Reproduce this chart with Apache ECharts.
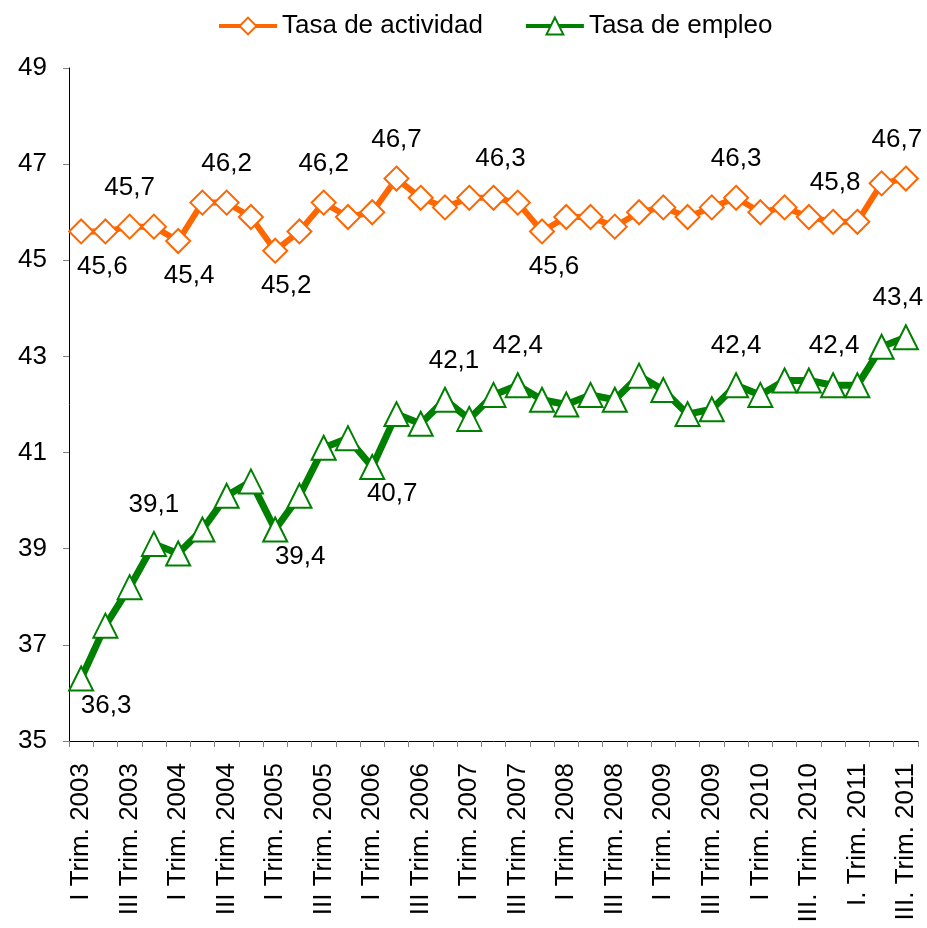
<!DOCTYPE html>
<html>
<head>
<meta charset="utf-8">
<script src="https://cdn.jsdelivr.net/npm/echarts@6/dist/echarts.min.js"></script>
<style>
html,body{margin:0;padding:0;background:#fff;}
#chart{width:927px;height:928px;}
</style>
</head>
<body>
<div id="chart"></div>
<script>
const categories = [
  'I Trim. 2003','II Trim. 2003','III Trim. 2003','IV Trim. 2003',
  'I Trim. 2004','II Trim. 2004','III Trim. 2004','IV Trim. 2004',
  'I Trim. 2005','II Trim. 2005','III Trim. 2005','IV Trim. 2005',
  'I Trim. 2006','II Trim. 2006','III Trim. 2006','IV Trim. 2006',
  'I Trim. 2007','II Trim. 2007','III Trim. 2007','IV Trim. 2007',
  'I Trim. 2008','II Trim. 2008','III Trim. 2008','IV Trim. 2008',
  'I Trim. 2009','II Trim. 2009','III Trim. 2009','IV Trim. 2009',
  'I Trim. 2010','II Trim. 2010','III. Trim. 2010','IV. Trim. 2010',
  'I. Trim. 2011','II. Trim. 2011','III. Trim. 2011'
];
const tasaActividad = [45.6,45.6,45.7,45.7,45.4,46.2,46.2,45.9,45.2,45.6,46.2,45.9,46.0,46.7,46.3,46.1,46.3,46.3,46.2,45.6,45.9,45.9,45.7,46.0,46.1,45.9,46.1,46.3,46.0,46.1,45.9,45.8,45.8,46.6,46.7];
const tasaEmpleo = [36.3,37.4,38.2,39.1,38.9,39.4,40.1,40.4,39.4,40.1,41.1,41.3,40.7,41.8,41.6,42.1,41.7,42.2,42.4,42.1,42.0,42.2,42.1,42.6,42.3,41.8,41.9,42.4,42.2,42.5,42.5,42.4,42.4,43.2,43.4];
const yTicks = {min: 35, max: 49, interval: 2};

// which points carry a data label: [index, side, horizontal shift]
const labelsActividad = [[1,'bottom',-3],[2,'top',0],[4,'bottom',11],[6,'top',0],[8,'bottom',11],[10,'top',0],[13,'top',0],[17,'top',7],[19,'bottom',12],[27,'top',0],[31,'top',2],[34,'top',-9]];
const labelsEmpleo = [[0,'bottom',25],[3,'top',0],[8,'bottom',25],[12,'bottom',20],[15,'top',9],[18,'top',0],[27,'top',0],[31,'top',1],[34,'top',-8]];

const FONT = "'Liberation Sans', Arial, sans-serif";
const FS = 26;

function buildData(values, labels, topDist, botDist) {
  const map = {};
  labels.forEach(l => { map[l[0]] = l; });
  return values.map((v, i) => {
    const l = map[i];
    if (!l) return v;
    return {
      value: v,
      label: {
        show: true,
        position: l[1],
        distance: l[1] === 'top' ? topDist : botDist,
        offset: [l[2], 0]
      }
    };
  });
}
const fmt = p => String(p.value).replace('.', ',');

const chart = echarts.init(document.getElementById('chart'));
chart.setOption({
  animation: false,
  backgroundColor: '#ffffff',
  textStyle: {fontFamily: FONT},
  legend: {
    top: 8,
    left: 212,
    itemWidth: 58,
    itemHeight: 21,
    itemGap: 41,
    textStyle: {fontSize: FS, color: '#000', fontFamily: FONT},
    lineStyle: {width: 4}
  },
  grid: {left: 69, right: 9, top: 68, bottom: 187, containLabel: false},
  xAxis: {
    type: 'category',
    data: categories,
    boundaryGap: true,
    axisLine: {lineStyle: {color: '#000', width: 1}},
    axisTick: {show: true, interval: 0, length: 6, lineStyle: {color: '#808080'}},
    axisLabel: {
      interval: 1, rotate: 90, margin: 22,
      fontSize: FS, color: '#000', fontFamily: FONT
    },
    splitLine: {show: false}
  },
  yAxis: {
    type: 'value',
    min: yTicks.min, max: yTicks.max, interval: yTicks.interval,
    axisLine: {show: true, lineStyle: {color: '#000', width: 1}},
    axisTick: {show: true, length: 6, lineStyle: {color: '#808080'}},
    axisLabel: {margin: 22, fontSize: FS, color: '#000', fontFamily: FONT},
    splitLine: {show: false}
  },
  series: [
    {
      name: 'Tasa de actividad',
      type: 'line',
      data: buildData(tasaActividad, labelsActividad, 13, 9),
      symbol: 'diamond',
      symbolSize: 24,
      showAllSymbol: true,
      lineStyle: {color: '#FF6600', width: 6},
      itemStyle: {color: '#ffffff', borderColor: '#FF6600', borderWidth: 2},
      label: {show: false, formatter: fmt, fontSize: FS, color: '#000', fontFamily: FONT}
    },
    {
      name: 'Tasa de empleo',
      type: 'line',
      data: buildData(tasaEmpleo, labelsEmpleo, 13, 1),
      symbol: 'triangle',
      symbolSize: 24,
      showAllSymbol: true,
      lineStyle: {color: '#008000', width: 7},
      itemStyle: {color: '#ffffff', borderColor: '#008000', borderWidth: 2},
      label: {show: false, formatter: fmt, fontSize: FS, color: '#000', fontFamily: FONT}
    }
  ]
});
</script>
</body>
</html>
